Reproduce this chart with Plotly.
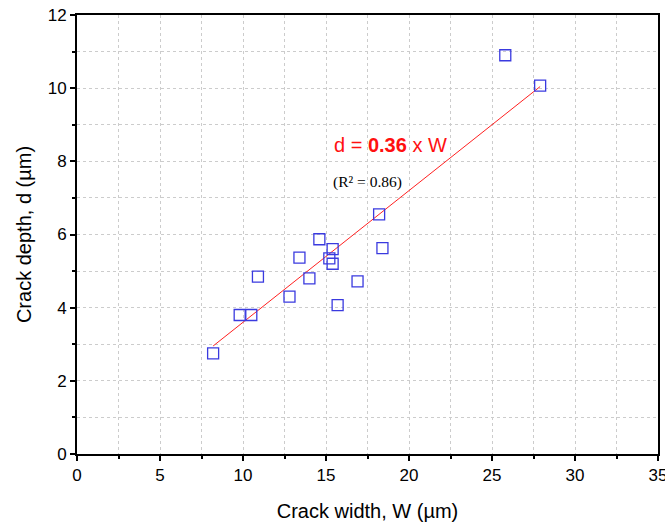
import plotly.graph_objects as go

crack_width = [25.8, 27.9, 8.2, 9.8, 10.5, 10.9, 12.8, 13.4, 14.0, 14.6, 15.2, 15.4, 15.4, 15.7, 16.9, 18.2, 18.4]
crack_depth = [10.9, 10.07, 2.75, 3.8, 3.8, 4.85, 4.3, 5.37, 4.8, 5.87, 5.35, 5.6, 5.2, 4.07, 4.72, 6.55, 5.63]
slope = 0.36
fit_x = [min(crack_width), max(crack_width)]
fit_y = [slope * v for v in fit_x]

fig = go.Figure()
fig.add_trace(go.Scatter(x=fit_x, y=fit_y, mode="lines",
                         line=dict(color="#ff2020", width=1), showlegend=False))
fig.add_trace(go.Scatter(x=crack_width, y=crack_depth, mode="markers",
                         marker=dict(symbol="square-open", size=11, color="#3a3adf",
                                     line=dict(width=1.3, color="#3a3adf")),
                         showlegend=False))

fig.add_annotation(x=18.87, y=8.44, xref="x", yref="y", showarrow=False,
                   text="d = <b>0.36</b> x W",
                   font=dict(family="Arial, Liberation Sans", size=20, color="#ff1010"))
fig.add_annotation(x=17.52, y=7.43, xref="x", yref="y", showarrow=False,
                   text="(R² = 0.86)",
                   font=dict(family="Times New Roman, Liberation Serif", size=15.5, color="black"))

axis_common = dict(showline=True, linecolor="black", linewidth=2, mirror=True,
                   ticks="outside", ticklen=5, tickwidth=1.5, tickcolor="black",
                   showgrid=True, gridcolor="#cccccc", griddash="dot", gridwidth=1,
                   zeroline=False, automargin=False, ticklabeloverflow="allow",
                   tickfont=dict(family="Arial, Liberation Sans", size=17, color="black"))

fig.update_xaxes(range=[0, 35], dtick=5, tick0=0,
                 minor=dict(dtick=2.5, ticks="outside", ticklen=3, tickcolor="black",
                            showgrid=True, gridcolor="#cccccc", griddash="dot"),
                 title=dict(text="Crack width, W (µm)", standoff=20,
                            font=dict(family="Arial, Liberation Sans", size=20, color="black")),
                 **axis_common)
fig.update_yaxes(range=[0, 12], dtick=2, tick0=0,
                 minor=dict(dtick=1, ticks="outside", ticklen=3, tickcolor="black",
                            showgrid=True, gridcolor="#cccccc", griddash="dot"),
                 title=dict(text="Crack depth, d (µm)", standoff=11,
                            font=dict(family="Arial, Liberation Sans", size=20, color="black")),
                 **axis_common)

fig.update_layout(width=665, height=523, margin=dict(l=77, r=7, t=15, b=69),
                  plot_bgcolor="white", paper_bgcolor="white")

fig.write_html("out.html")
